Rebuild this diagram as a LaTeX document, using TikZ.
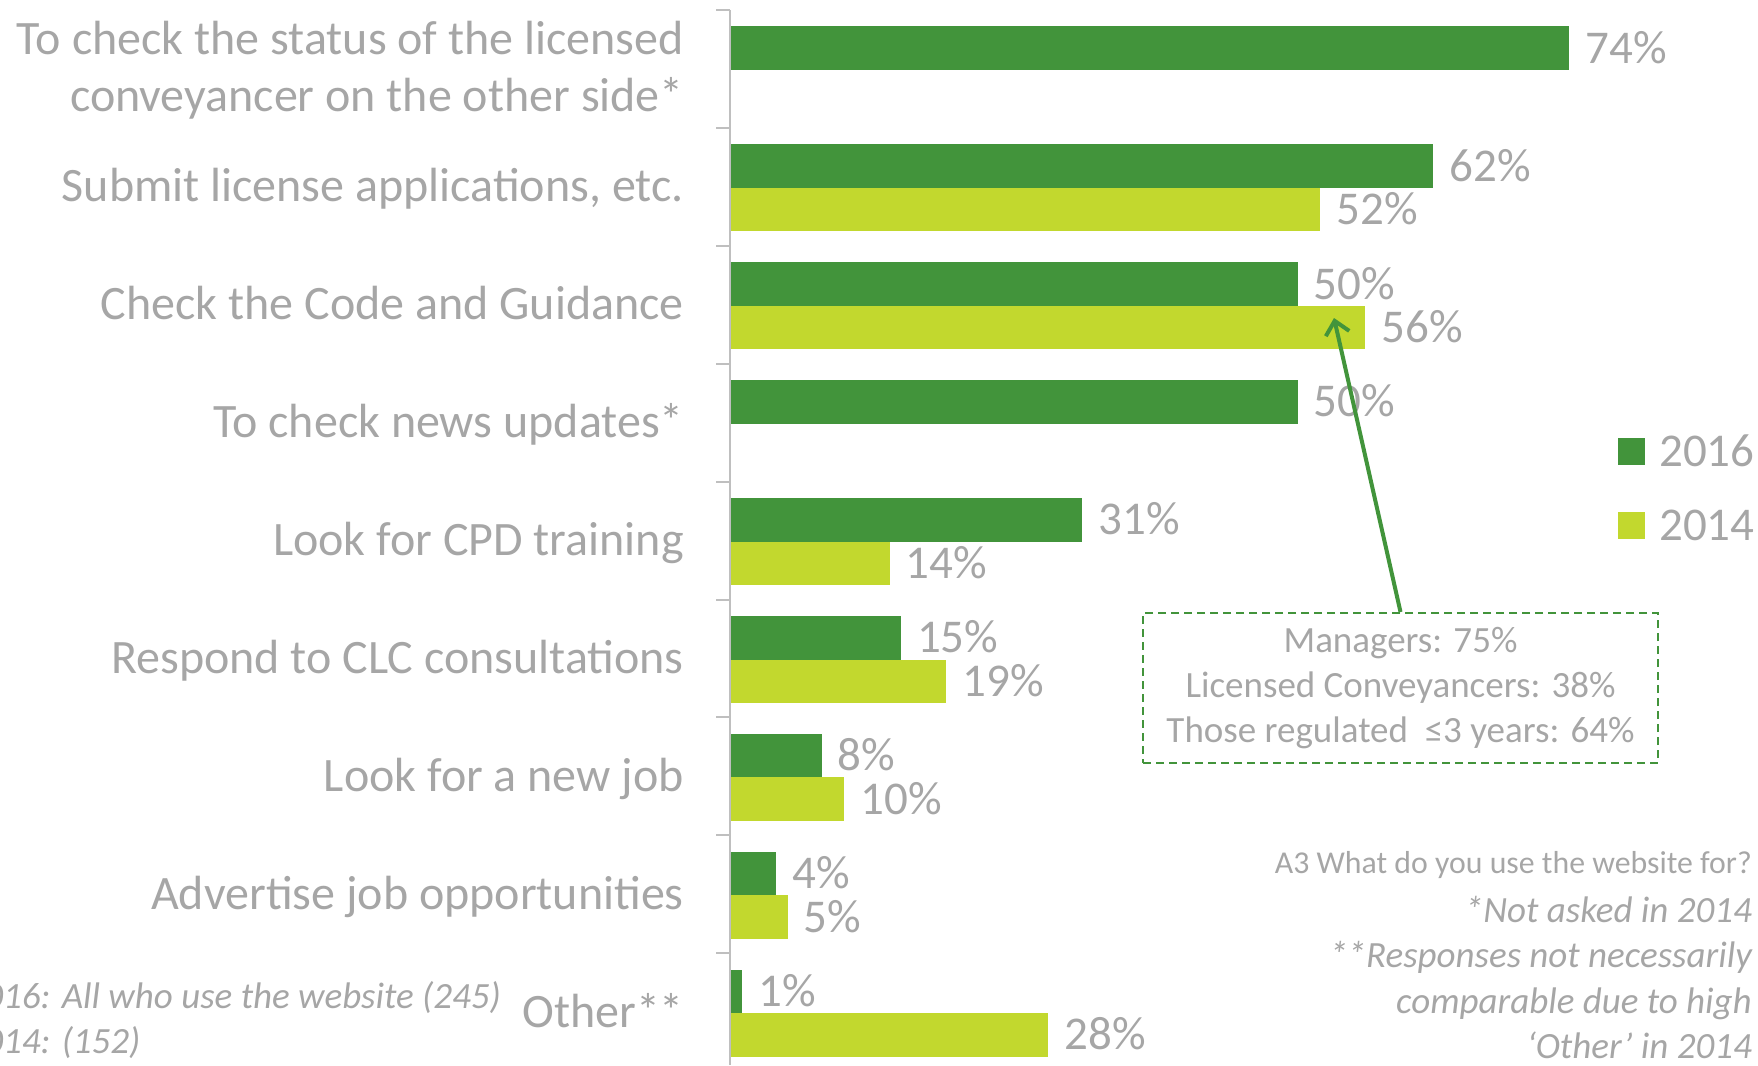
\documentclass[tikz,border=0pt]{standalone}
\usepackage{fontspec}
\setmainfont{Carlito}
\usetikzlibrary{arrows.meta}
\definecolor{gA}{RGB}{66,148,59}
\definecolor{gB}{RGB}{194,216,46}
\definecolor{txt}{RGB}{166,166,166}
\definecolor{axisc}{RGB}{191,191,191}
\begin{document}
\begin{tikzpicture}[x=1pt,y=-1pt,
  catlabel/.style={font=\fontsize{48}{57.5}\selectfont, text=txt, inner sep=0pt},
  vallabel/.style={font=\fontsize{47}{56}\selectfont, text=txt, inner sep=0pt},
  smalltxt/.style={font=\fontsize{31.8}{40}\selectfont, text=txt, inner sep=0pt},
  notetxt/.style={font=\fontsize{37}{45}\selectfont\itshape, text=txt, inner sep=0pt},
  notebox/.style={draw=gA, line width=2pt, dash pattern=on 8pt off 5pt, align=center,
     font=\fontsize{37}{45}\selectfont, text=txt, minimum width=515pt, minimum height=150pt, inner sep=0pt},
  arrowline/.style={draw=gA, line width=4pt, -{Straight Barb[length=13pt,width=24pt]}}
]
\useasboundingbox (0,0) rectangle (1758,1065);

% axis
\draw[axisc, line width=2pt] (730,10) -- (730,1065);
\foreach \k in {0,...,8}{
  \draw[axisc, line width=2pt] (716,{10+117.9*\k}) -- (730,{10+117.9*\k});
}

% bars and value labels
\foreach \k/\a/\b in {0/74/-1,1/62/52,2/50/56,3/50/-1,4/31/14,5/15/19,6/8/10,7/4/5,8/1/28}{
  \pgfmathsetmacro\yy{10+117.9*\k}
  \fill[gA] (731,\yy+16.5) rectangle ({731+11.33*\a},\yy+60);
  \node[vallabel, anchor=base west] (vg\k) at ({731+11.33*\a+16},\yy+38.25+15) {\a\%};
  \ifnum\b>-1
    \fill[gB] (731,\yy+60) rectangle ({731+11.33*\b},\yy+103.5);
    \node[vallabel, anchor=base west] (vy\k) at ({731+11.33*\b+16},\yy+81.75+15) {\b\%};
  \fi
}

% category labels
\node[catlabel, anchor=east, align=right] (c0) at (684,70) {To check the status of the licensed\\conveyancer on the other side*};
\foreach \k/\t in {1/{Submit license applications, etc.},2/{Check the Code and Guidance},3/{To check news updates*},4/{Look for CPD training},5/{Respond to CLC consultations},6/{Look for a new job},7/{Advertise job opportunities},8/{Other**}}{
  \node[catlabel, anchor=base east] (c\k) at (684,{69+117.9*\k+15}) {\t};
}

% legend
\fill[gA] (1618,438) rectangle (1645,465);
\node[vallabel, anchor=base west] (l16) at (1659,466) {2016};
\fill[gB] (1618,512) rectangle (1645,539);
\node[vallabel, anchor=base west] (l14) at (1659,540) {2014};

% annotation
\node[notebox] (note) at (1400.5,688) {\raisebox{-4pt}{Managers: 75\%}\\\raisebox{-4pt}{Licensed Conveyancers: 38\%}\\\raisebox{-4pt}{Those regulated \ ≤3 years: 64\%}};
\coordinate (tip) at (1334,318);
\draw[arrowline] (note.north) -- (tip);

% notes right
\node[smalltxt, anchor=base east] (q) at (1752,873) {A3 What do you use the website for?};
\node[notetxt, anchor=base east] (n1) at (1752,922) {*Not asked in 2014};
\node[notetxt, anchor=base east] (n2) at (1752,967) {**Responses not necessarily};
\node[notetxt, anchor=base east] (n3) at (1752,1013) {comparable due to high};
\node[notetxt, anchor=base east] (n4) at (1752,1058) {‘Other’ in 2014};

% base notes left
\node[notetxt, anchor=base east] (b1) at (501,1008) {2016: All who use the website (245)};
\node[notetxt, anchor=base west] (b2) at ([yshift=-45pt]b1.base west) {2014: (152)};
\end{tikzpicture}
\end{document}
